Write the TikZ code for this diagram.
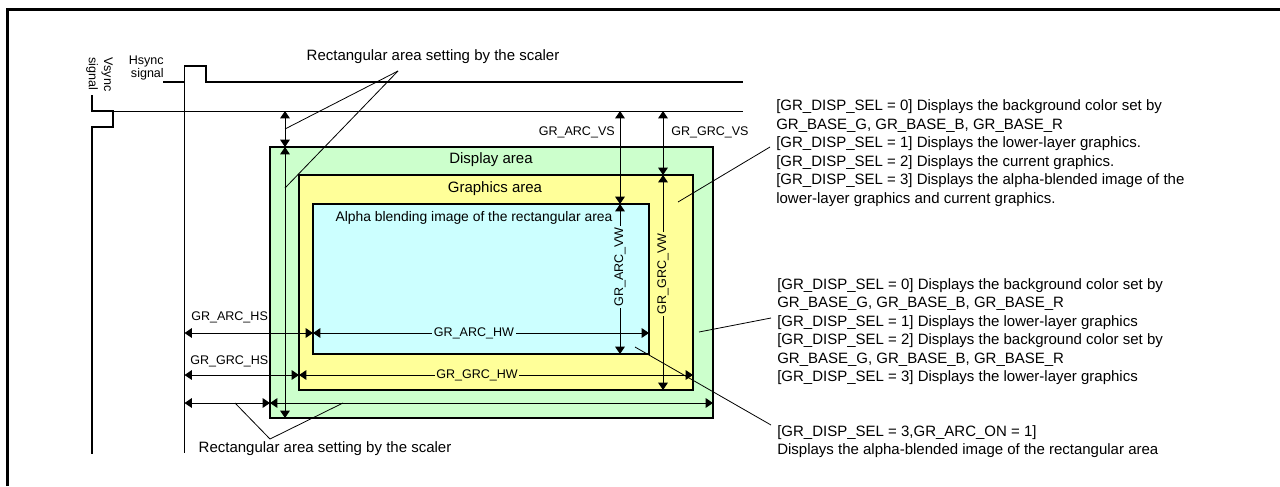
\documentclass[tikz,border=0pt]{standalone}
\usepackage{fontspec}
\setmainfont{Liberation Sans}
\usetikzlibrary{arrows.meta}
\definecolor{dispgreen}{HTML}{CCFFCC}
\definecolor{grayellow}{HTML}{FFFF99}
\definecolor{alphacyan}{HTML}{CCFFFF}
\tikzset{
 big/.style={font=\fontsize{11.25}{13.9}\selectfont, inner sep=0pt},
 mid/.style={font=\fontsize{10.4}{12}\selectfont, inner sep=0pt},
 small/.style={font=\fontsize{9.4}{9.8}\selectfont, inner sep=0pt},
 area/.style={draw=black, line width=1.2pt},
 dim/.style={line width=0.7pt, {Triangle[length=5.5pt,width=7.2pt]}-{Triangle[length=5.5pt,width=7.2pt]}},
 lead/.style={line width=0.6pt},
 sig/.style={line width=1pt},
 cut/.style={small, inner sep=1.3pt}
}
\begin{document}
\begin{tikzpicture}[x=0.75pt,y=-0.75pt]
\useasboundingbox (0,0) rectangle (1280,486);
% frame
\draw[line width=2.1pt] (7.5,486) -- (7.5,9.7) -- (1280,9.7);

% areas
\coordinate (dnw) at (270,147); \coordinate (dse) at (713,418);
\coordinate (gnw) at (299,175); \coordinate (gse) at (693,390);
\coordinate (anw) at (313,204); \coordinate (ase) at (649,354);
\draw[area, fill=dispgreen] (dnw) rectangle (dse);
\draw[area, fill=grayellow] (gnw) rectangle (gse);
\draw[area, fill=alphacyan] (anw) rectangle (ase);
\node[big] (dlab) at (491,160) {Display area};
\node[big] (glab) at (495,189) {Graphics area};
\node[mid] (alab) at (474,218) {Alpha blending image of the rectangular area};

% sync signals
\node[small, align=right, anchor=east] (hslab) at (164,68) {Hsync\\signal};
\node[font=\fontsize{9.4}{11.6}\selectfont, inner sep=0pt, rotate=-90, anchor=west, align=left] (vslab) at (99.5,57) {Vsync\\signal};
\coordinate (hs0) at (163,82); \coordinate (hsend) at (743,82);
\draw[sig] (hs0) -- (184.5,82) -- (184.5,66) -- (206,66) -- (206,82) -- (hsend);
\draw[line width=0.8pt] (184.5,66) -- (184.5,453);
\coordinate (vs0) at (92,95); \coordinate (vsend) at (743,111);
\draw[sig] (vs0) -- (92,111) -- (113,111) -- (113,127) -- (92,127) -- (92,454);
\draw[line width=0.7pt] (113,111) -- (vsend);

% scaler rectangle dimensions
\draw[dim] (285,111) -- (285,147);
\draw[dim] (285,147) -- (285,418);
\draw[dim] (184.5,403) -- (270,403);
\draw[dim] (270,403) -- (713,403);

% vertical dimensions
\draw[dim] (620,111) -- (620,204);
\node[small, anchor=east] (arcvs) at (615,132) {GR\_ARC\_VS};
\draw[dim] (663,111) -- (663,175);
\node[small, anchor=west] (grcvs) at (671,132) {GR\_GRC\_VS};
\draw[dim] (620,204) -- (620,354);
\node[cut, rotate=90, fill=alphacyan] (arcvw) at (620,267) {GR\_ARC\_VW};
\draw[dim] (663,175) -- (663,390);
\node[cut, rotate=90, fill=grayellow] (grcvw) at (663,274) {GR\_GRC\_VW};

% horizontal dimensions
\draw[dim] (184.5,333) -- (313,333);
\node[small, anchor=west] (archs) at (191,317) {GR\_ARC\_HS};
\draw[dim] (313,333) -- (649,333);
\node[cut, fill=alphacyan] (archw) at (474,333) {GR\_ARC\_HW};
\draw[dim] (184.5,375) -- (299,375);
\node[small, anchor=west] (grchs) at (190,361) {GR\_GRC\_HS};
\draw[dim] (299,375) -- (693,375);
\node[cut, fill=grayellow] (grchw) at (477,375) {GR\_GRC\_HW};

% scaler labels
\node[big] (ttl) at (433,57) {Rectangular area setting by the scaler};
\node[big] (btl) at (325,449) {Rectangular area setting by the scaler};
\coordinate (t0) at (398,71);
\draw[lead] (t0) -- (285,129);
\draw[lead] (t0) -- (285,188);
\coordinate (b0) at (270,439);
\draw[lead] (235,403) -- (b0) -- (343,403);

% right notes
\node[big, anchor=north west, align=left] (note1) at (776,99.5) {[GR\_DISP\_SEL = 0] Displays the background color set by\\GR\_BASE\_G, GR\_BASE\_B, GR\_BASE\_R\\{}[GR\_DISP\_SEL = 1] Displays the lower-layer graphics.\\{}[GR\_DISP\_SEL = 2] Displays the current graphics.\\{}[GR\_DISP\_SEL = 3] Displays the alpha-blended image of the\\lower-layer graphics and current graphics.};
\node[big, anchor=north west, align=left] (note2) at (777,278) {[GR\_DISP\_SEL = 0] Displays the background color set by\\GR\_BASE\_G, GR\_BASE\_B, GR\_BASE\_R\\{}[GR\_DISP\_SEL = 1] Displays the lower-layer graphics\\{}[GR\_DISP\_SEL = 2] Displays the background color set by\\GR\_BASE\_G, GR\_BASE\_B, GR\_BASE\_R\\{}[GR\_DISP\_SEL = 3] Displays the lower-layer graphics};
\node[big, anchor=north west, align=left] (note3) at (777,425) {[GR\_DISP\_SEL = 3,GR\_ARC\_ON = 1]\\Displays the alpha-blended image of the rectangular area};
\draw[lead] (678,202) -- (770,147);
\draw[lead] (699,332) -- (771,318);
\draw[lead] (635,347) -- (771,425);
\end{tikzpicture}
\end{document}
